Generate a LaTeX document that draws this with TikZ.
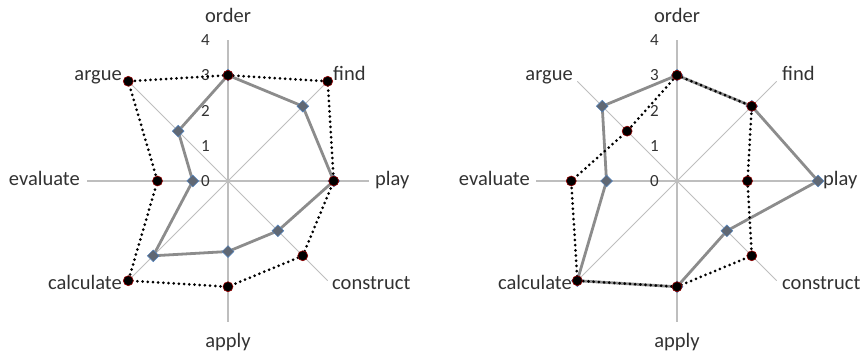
\documentclass[tikz,border=0pt]{standalone}
\usepackage{fontspec}
\setmainfont{Carlito}
\usetikzlibrary{shapes.geometric}

\definecolor{axisgray}{RGB}{190,190,190}
\definecolor{seriesgray}{RGB}{140,140,140}
\definecolor{diamondfill}{RGB}{96,104,116}
\definecolor{diamondedge}{RGB}{79,129,189}
\definecolor{dotedge}{RGB}{150,0,0}
\definecolor{labelgray}{RGB}{50,50,50}

\tikzset{
  axisline/.style={draw=axisgray, line width=1.2pt},
  diagline/.style={draw=axisgray, line width=0.8pt},
  solidline/.style={draw=seriesgray, line width=2.8pt, line join=round},
  dottedline/.style={draw=black, line width=3pt, dash pattern=on 0pt off 5.2pt, line cap=round},
  diamondmark/.style={diamond, fill=diamondfill, draw=diamondedge, line width=0.5pt, inner sep=0pt, minimum size=12pt},
  dotmark/.style={circle, fill=black, draw=dotedge, line width=0.6pt, inner sep=0pt, minimum size=10pt},
  axislabel/.style={text=labelgray, font=\fontsize{20.5}{24}\selectfont, inner sep=0pt, text height=14pt, text depth=4pt},
  ticklabel/.style={text=labelgray, font=\fontsize{17}{20}\selectfont, inner sep=0pt, anchor=east}
}

\begin{document}
\begin{tikzpicture}[x=1pt,y=1pt]
  \useasboundingbox (-228,-172) rectangle (633,181);

  % left chart
  \begin{scope}
    \coordinate (L-c) at (0,0);
    \foreach \ang [count=\i] in {90,45,0,-45,-90,-135,180,135}
      \coordinate (L-a\i) at (\ang:141);
    \foreach \i in {2,4,6,8}
      \draw[diagline] (L-c) -- (L-a\i);
    \foreach \i in {1,3,5,7}
      \draw[axisline] (L-c) -- (L-a\i);
    \foreach \t in {0,...,4}
      \node[ticklabel] (L-t\t) at (-18,\t*35.25) {\t};

    \foreach \v [count=\i] in {3,3,3,2,2,3,1,2} {
      \pgfmathsetmacro\ang{135-45*\i}
      \coordinate (L-s\i) at (\ang:\v*35.25);
    }
    \foreach \v [count=\i] in {3,4,3,3,3,4,2,4} {
      \pgfmathsetmacro\ang{135-45*\i}
      \coordinate (L-d\i) at (\ang:\v*35.25);
    }

    \draw[solidline] (L-s1) -- (L-s2) -- (L-s3) -- (L-s4) -- (L-s5) -- (L-s6) -- (L-s7) -- (L-s8) -- cycle;
    \foreach \i in {1,...,8}
      \node[diamondmark] (L-sm\i) at (L-s\i) {};
    \draw[dottedline] (L-d1) -- (L-d2) -- (L-d3) -- (L-d4) -- (L-d5) -- (L-d6) -- (L-d7) -- (L-d8) -- cycle;
    \foreach \i in {1,...,8}
      \node[dotmark] (L-dm\i) at (L-d\i) {};

    \node[axislabel] (L-order) at (0,163) {order};
    \node[axislabel, anchor=west] (L-find) at (105,105) {find};
    \node[axislabel, anchor=west] (L-play) at (147,0) {play};
    \node[axislabel, anchor=west] (L-construct) at (104,-103) {construct};
    \node[axislabel] (L-apply) at (0,-161) {apply};
    \node[axislabel, anchor=east] (L-calculate) at (-106,-103) {calculate};
    \node[axislabel, anchor=east] (L-evaluate) at (-148,0) {evaluate};
    \node[axislabel, anchor=east] (L-argue) at (-106,105) {argue};
  \end{scope}

  % right chart
  \begin{scope}[xshift=449pt]
    \coordinate (R-c) at (0,0);
    \foreach \ang [count=\i] in {90,45,0,-45,-90,-135,180,135}
      \coordinate (R-a\i) at (\ang:141);
    \foreach \i in {2,4,6,8}
      \draw[diagline] (R-c) -- (R-a\i);
    \foreach \i in {1,3,5,7}
      \draw[axisline] (R-c) -- (R-a\i);
    \foreach \t in {0,...,4}
      \node[ticklabel] (R-t\t) at (-18,\t*35.25) {\t};

    \foreach \v [count=\i] in {3,3,4,2,3,4,2,3} {
      \pgfmathsetmacro\ang{135-45*\i}
      \coordinate (R-s\i) at (\ang:\v*35.25);
    }
    \foreach \v [count=\i] in {3,3,2,3,3,4,3,2} {
      \pgfmathsetmacro\ang{135-45*\i}
      \coordinate (R-d\i) at (\ang:\v*35.25);
    }

    \draw[solidline] (R-s1) -- (R-s2) -- (R-s3) -- (R-s4) -- (R-s5) -- (R-s6) -- (R-s7) -- (R-s8) -- cycle;
    \foreach \i in {1,...,8}
      \node[diamondmark] (R-sm\i) at (R-s\i) {};
    \draw[dottedline] (R-d1) -- (R-d2) -- (R-d3) -- (R-d4) -- (R-d5) -- (R-d6) -- (R-d7) -- (R-d8) -- cycle;
    \foreach \i in {1,...,8}
      \node[dotmark] (R-dm\i) at (R-d\i) {};

    \node[axislabel] (R-order) at (0,163) {order};
    \node[axislabel, anchor=west] (R-find) at (105,105) {find};
    \node[axislabel, anchor=west] (R-play) at (146,0) {play};
    \node[axislabel, anchor=west] (R-construct) at (105,-103) {construct};
    \node[axislabel] (R-apply) at (0,-161) {apply};
    \node[axislabel, anchor=east] (R-calculate) at (-105,-103) {calculate};
    \node[axislabel, anchor=east] (R-evaluate) at (-147,0) {evaluate};
    \node[axislabel, anchor=east] (R-argue) at (-104,105) {argue};
  \end{scope}
\end{tikzpicture}
\end{document}
